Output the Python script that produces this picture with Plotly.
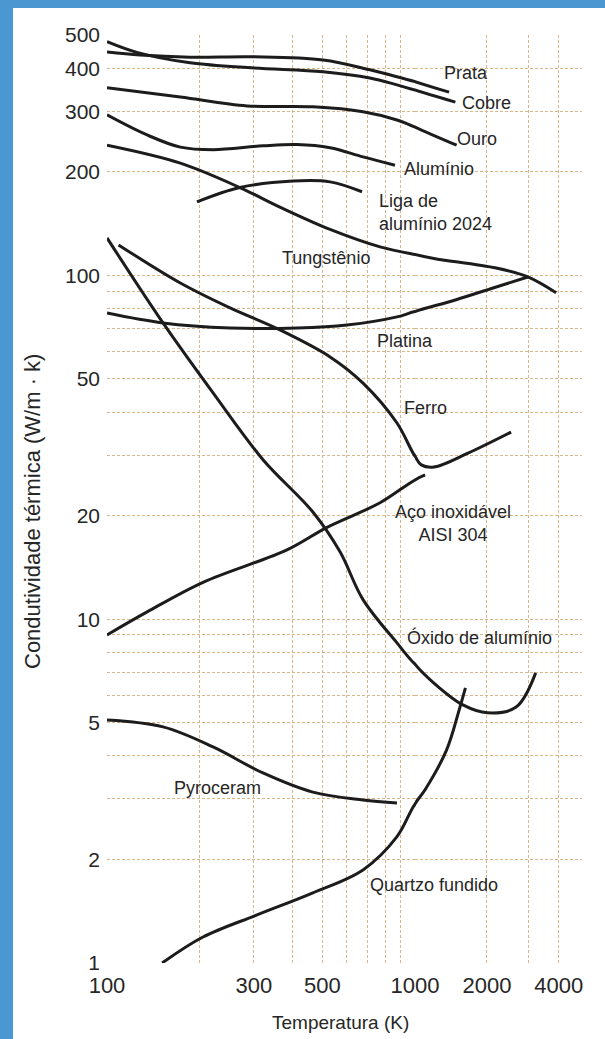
import math
import plotly.graph_objects as go

# Thermal conductivity of selected solids, k (W/m·K) versus temperature (K)
prata_T = [100, 128, 186, 300, 503, 714, 1000, 1389]
prata_k = [446, 437, 431, 432, 423, 396, 366, 341]

cobre_T = [100, 125, 186, 300, 503, 714, 874, 1000, 1476]
cobre_k = [478, 445, 415, 401, 391, 375, 358, 346, 319]

ouro_T = [100, 173, 285, 466, 678, 874, 1000, 1494]
ouro_k = [351, 330, 311, 309, 299, 283, 270, 239]

aluminio_T = [100, 135, 173, 221, 321, 414, 530, 678, 861]
aluminio_k = [293, 256, 236, 232, 238, 240, 235, 221, 209]

liga_T = [196, 270, 402, 530, 673]
liga_k = [163.5, 180, 188, 187, 175]

tungstenio_T = [100, 173, 270, 364, 530, 770, 1000, 1200, 2188, 2966, 3897]
tungstenio_k = [239, 212, 180, 158, 136, 121, 115, 112, 105, 99, 89]

platina_T = [100, 152, 251, 414, 601, 874, 1000, 1476, 2188, 2966]
platina_k = [77.7, 72.7, 70.3, 70.3, 71.7, 75.7, 78.5, 84.8, 92.5, 98.9]

ferro_T = [109, 173, 251, 364, 530, 678, 874, 1000, 1063, 1200, 1667, 2525]
ferro_k = [122.6, 95, 80.4, 69.4, 57.9, 48.6, 37.2, 29.8, 28.1, 27.7, 30.4, 35.0]

aco_T = [100, 135, 205, 384, 518, 770, 1000, 1102]
aco_k = [9.0, 10.5, 12.8, 15.9, 18.5, 21.8, 25.4, 26.3]

oxido_T = [100, 152, 221, 321, 466, 571, 678, 874, 1000, 1200, 1587, 2013, 2650, 3200]
oxido_k = [128.5, 72.7, 45.5, 29.1, 20.5, 15.7, 11.4, 8.53, 7.4, 6.52, 5.63, 5.34, 5.55, 6.98]

pyroceram_T = [100, 152, 221, 321, 466, 678, 874]
pyroceram_k = [5.09, 4.86, 4.25, 3.57, 3.14, 2.98, 2.92]

quartzo_T = [151, 205, 307, 466, 678, 874, 1000, 1102, 1355, 1530, 1626]
quartzo_k = [1.0, 1.19, 1.38, 1.60, 1.865, 2.33, 2.9, 3.19, 4.16, 5.44, 6.31]

# Axis ticks
x_low_ticks = [100, 200, 300, 400, 500, 600, 700, 800, 900, 1000]
x_low_labels = ["100", "", "300", "", "500", "", "", "", "", "1000"]
x_high_ticks = [1000, 2000, 3000, 4000, 5000]
x_high_labels = ["", "2000", "", "4000", ""]
y_ticks = [1, 2, 3, 4, 5, 6, 7, 8, 9, 10, 20, 30, 40, 50, 60, 70, 80, 90,
           100, 200, 300, 400, 500]
y_labels = ["1", "2", "", "", "5", "", "", "", "", "10", "20", "", "", "50",
            "", "", "", "", "100", "200", "300", "400", "500"]

T_BREAK = 1000  # the temperature scale is compressed above this value

curves = [
    (prata_T, prata_k), (cobre_T, cobre_k), (ouro_T, ouro_k),
    (aluminio_T, aluminio_k), (liga_T, liga_k),
    (tungstenio_T, tungstenio_k), (platina_T, platina_k),
    (ferro_T, ferro_k), (aco_T, aco_k), (oxido_T, oxido_k),
    (pyroceram_T, pyroceram_k), (quartzo_T, quartzo_k),
]

labels = [
    ("Prata", 442, 73, "left"),
    ("Cobre", 460, 103, "left"),
    ("Ouro", 455, 139, "left"),
    ("Alumínio", 402, 169, "left"),
    ("Liga de<br>alumínio 2024", 377, 213, "left"),
    ("Tungstênio", 326, 258, "center"),
    ("Platina", 375, 341, "left"),
    ("Ferro", 402, 408, "left"),
    ("Aço inoxidável<br>AISI 304", 453, 523, "center"),
    ("Óxido de alumínio", 405, 637, "left"),
    ("Pyroceram", 172, 788, "left"),
    ("Quartzo fundido", 368, 885, "left"),
]

W, H = 605, 1039
ML, MR, MT, MB = 107, 23, 35, 76
PW, PH = W - ML - MR, H - MT - MB
SPLIT = 0.6484  # fraction of the plot width used by 100–1000 K

INK = "#1c1c1c"
TEXT = "#262626"
GRID = "#d8b78f"
FONT = "Liberation Sans, Arial, sans-serif"


def px(x):
    return (x - ML) / PW


def py(y):
    return (H - MB - y) / PH


fig = go.Figure()
line = dict(color=INK, width=3, shape="spline", smoothing=1.0)
for T, k in curves:
    # each half keeps one neighbour across the break so the curve runs
    # smoothly into the axis boundary, where it is clipped
    below = [i for i, t in enumerate(T) if t <= T_BREAK]
    above = [i for i, t in enumerate(T) if t >= T_BREAK]
    lo = below + ([below[-1] + 1] if above and below and below[-1] + 1 < len(T) else [])
    hi = ([above[0] - 1] if above and below and above[0] > 0 else []) + above
    if len(below) > 1:
        fig.add_trace(go.Scatter(x=[T[i] for i in lo], y=[k[i] for i in lo],
                                 mode="lines", line=line, xaxis="x", yaxis="y",
                                 hoverinfo="skip", showlegend=False))
    if len(above) > 1:
        fig.add_trace(go.Scatter(x=[T[i] for i in hi], y=[k[i] for i in hi],
                                 mode="lines", line=line, xaxis="x2", yaxis="y",
                                 hoverinfo="skip", showlegend=False))

grid = dict(showgrid=True, gridcolor=GRID, gridwidth=1, griddash="3px,2px",
            zeroline=False, showline=False, ticks="", automargin=False,
            ticklabelstandoff=7,
            tickfont=dict(family=FONT, size=22, color=TEXT))

fig.update_layout(
    width=W, height=H,
    margin=dict(l=ML, r=MR, t=MT, b=MB),
    paper_bgcolor="#4b97d2",
    plot_bgcolor="white",
    font=dict(family=FONT, color=TEXT),
    xaxis=dict(type="log", range=[2, 3], domain=[0, SPLIT],
               tickmode="array", tickvals=x_low_ticks, ticktext=x_low_labels,
               **grid),
    xaxis2=dict(type="log", range=[3, math.log10(5000)], domain=[SPLIT, 1],
                anchor="y", tickmode="array", tickvals=x_high_ticks,
                ticktext=x_high_labels, **grid),
    yaxis=dict(type="log", range=[0, math.log10(500)], tickmode="array",
               tickvals=y_ticks, ticktext=y_labels,
               **{**grid, "ticklabelstandoff": 6,
                  "tickfont": dict(family=FONT, size=21, color=TEXT)}),
    shapes=[dict(type="rect", xref="paper", yref="paper", layer="below",
                 x0=px(13), x1=px(W + 5), y0=py(H + 5), y1=py(8),
                 fillcolor="white", line=dict(width=0))],
)

for text, x, y, anchor in labels:
    fig.add_annotation(text=text, x=px(x), y=py(y), xref="paper", yref="paper",
                       xanchor=anchor, yanchor="middle", showarrow=False,
                       align=anchor, font=dict(family=FONT, size=18, color=TEXT))

fig.add_annotation(text="Temperatura (K)", x=px(340), y=py(1022),
                   xref="paper", yref="paper", xanchor="center",
                   yanchor="middle", showarrow=False,
                   font=dict(family=FONT, size=19, color=TEXT))
fig.add_annotation(text="Condutividade térmica (W/m · k)", x=px(32), y=py(512),
                   xref="paper", yref="paper", xanchor="center",
                   yanchor="middle", showarrow=False, textangle=-90,
                   font=dict(family=FONT, size=22, color=TEXT))

fig.write_html("out.html")
